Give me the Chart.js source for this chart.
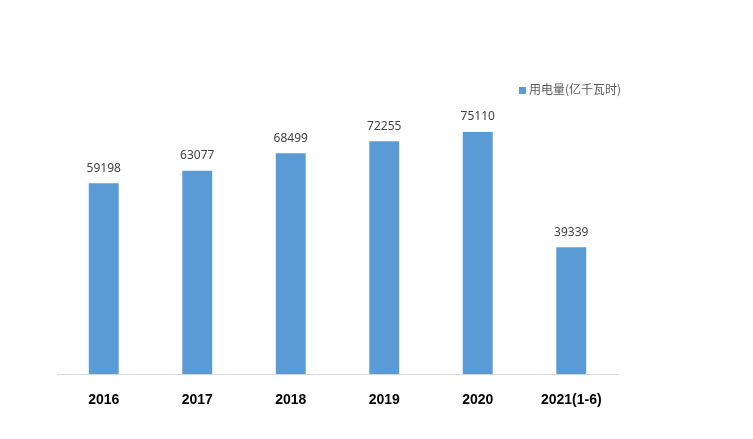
<!DOCTYPE html>
<html><head><meta charset="utf-8">
<script src="https://cdn.jsdelivr.net/npm/chart.js@4/dist/chart.umd.min.js"></script>
<style>html,body{margin:0;padding:0;background:#fff;}#wrap{position:relative;width:753px;height:439px;}
#lg{position:absolute;left:519px;top:80px;font:12px "Noto Sans CJK SC",sans-serif;color:#595959;}
#lg span{display:inline-block;width:7px;height:7px;background:#5b9bd5;margin-right:3px;}</style>
</head><body><div id="wrap"><canvas id="c" width="753" height="439"></canvas><div id="lg"><span></span>用电量(亿千瓦时)</div></div>
<script>
const categories=["2016","2017","2018","2019","2020","2021(1-6)"];
const values=[59198,63077,68499,72255,75110,39339];
const seriesName="用电量(亿千瓦时)";
const labelPlugin={id:"lbl",afterDatasetsDraw(ch){const ctx=ch.ctx;ctx.save();ctx.font='12px "Noto Sans","DejaVu Sans",sans-serif';ctx.fillStyle="#404040";ctx.textAlign="center";ctx.textBaseline="bottom";
ch.getDatasetMeta(0).data.forEach((b,i)=>{ctx.fillText(values[i],b.x,b.y-9);});ctx.restore();}};
new Chart(document.getElementById("c"),{type:"bar",data:{labels:categories,datasets:[{label:seriesName,data:values,backgroundColor:"#5b9bd5",barPercentage:0.64,categoryPercentage:0.5}]},
options:{responsive:false,animation:false,layout:{padding:{left:57,right:135,top:84,bottom:20}},
plugins:{legend:{display:false},tooltip:{enabled:false}},
scales:{y:{display:false,min:0,max:90000},x:{grid:{display:false},border:{color:"#d9d9d9"},ticks:{color:"#000",font:{size:14,weight:"bold",family:"Liberation Sans, Arial, sans-serif"},padding:10}}}},
plugins:[labelPlugin]});
</script></body></html>
